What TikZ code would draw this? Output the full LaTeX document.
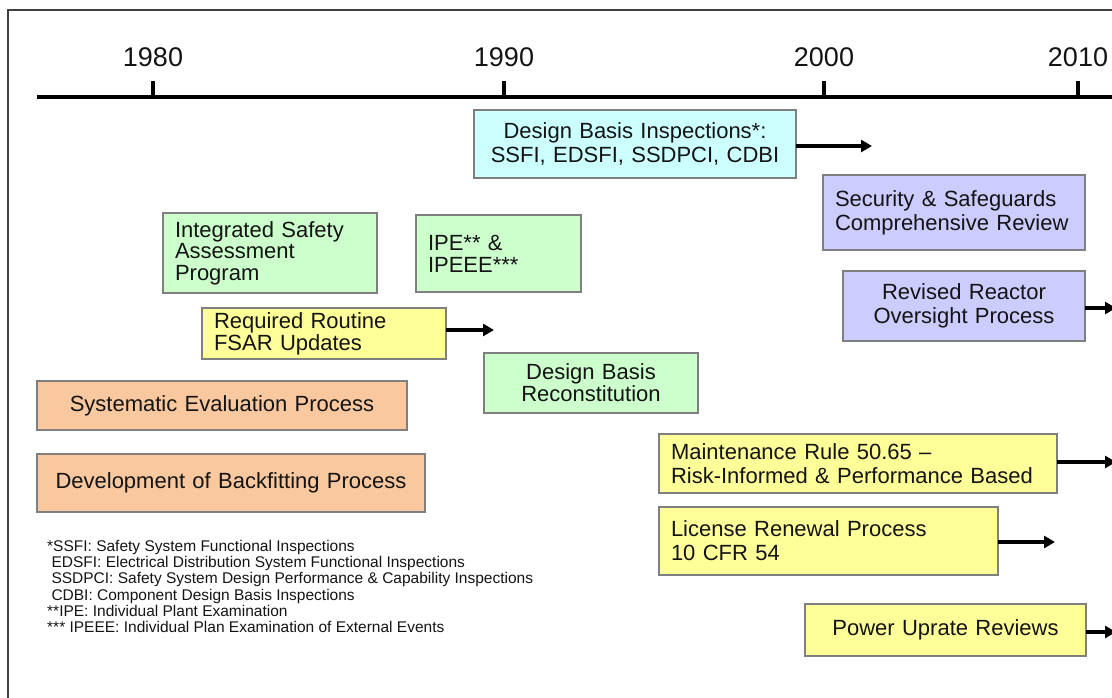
\documentclass[tikz,border=0pt]{standalone}
\usepackage{fontspec}
\setmainfont{Liberation Sans}
\usetikzlibrary{arrows.meta}

\definecolor{cyanbox}{HTML}{CCFFFF}
\definecolor{lavbox}{HTML}{CCCCFF}
\definecolor{greenbox}{HTML}{CCFFCC}
\definecolor{yellowbox}{HTML}{FFFF99}
\definecolor{orangebox}{HTML}{FAC89E}
\definecolor{boxline}{HTML}{7F7F7F}
\definecolor{ink}{HTML}{141414}

\tikzset{
  event/.style={draw=boxline, line width=1.6pt, inner sep=0pt, outer sep=0pt,
    text=ink, font=\fontsize{22}{24}\selectfont},
  leftbox/.style={event, align=left},
  midbox/.style={event, align=center},
  sz/.style n args={2}{minimum width=#1pt, minimum height=#2pt, text width=#1pt-24pt},
  cont/.style={line width=3.4pt, -{Triangle[length=11pt,width=12pt]}},
  year/.style={font=\fontsize{27}{30}\selectfont, text=ink},
  tick/.style={line width=3.6pt},
}

\begin{document}
\begin{tikzpicture}[x=1pt,y=-1pt]
\useasboundingbox (0,0) rectangle (1112,698);

% frame
\draw[line width=2.4pt, draw=black!75] (8,698) -- (8,10) -- (1112,10);

% time axis
\coordinate (axL) at (37,97);
\coordinate (axR) at (1112,97);
\draw[line width=3.6pt] (axL) -- (axR);
\foreach \yr/\px in {1980/153,1990/504,2000/824,2010/1078}{
  \coordinate (t\yr) at (\px,97);
  \draw[tick] (t\yr) -- ++(0,-16);
  \node[year] (y\yr) at (\px,57) {\yr};
}

% events
\node[midbox, fill=cyanbox, sz={322}{68}] (dbi) at (635,144)
  {Design Basis Inspections*:\\SSFI, EDSFI, SSDPCI, CDBI};
\node[leftbox, fill=lavbox, sz={262}{75}] (ssc) at (954,212.5)
  {Security \& Safeguards\\Comprehensive Review};
\node[midbox, fill=lavbox, sz={242}{70}] (rro) at (964,306)
  {Revised Reactor\\Oversight Process};
\node[leftbox, fill=greenbox, sz={214}{80}, font=\fontsize{22}{21.5}\selectfont] (isap) at (270,253)
  {Integrated Safety\\Assessment\\Program};
\node[leftbox, fill=greenbox, sz={165}{77}, font=\fontsize{22}{22}\selectfont] (ipe) at (498.5,253.5)
  {IPE** \&\\IPEEE***};
\node[leftbox, fill=yellowbox, sz={244}{51}, font=\fontsize{22}{22}\selectfont] (rrfu) at (324,333.5)
  {Required Routine\\FSAR Updates};
\node[midbox, fill=greenbox, sz={214}{60}, font=\fontsize{22}{22}\selectfont] (dbr) at (591,383)
  {Design Basis\\Reconstitution};
\node[midbox, fill=orangebox, sz={370}{49}] (sep) at (222,405.5)
  {Systematic Evaluation Process};
\node[midbox, fill=orangebox, sz={388}{58}] (dbp) at (231,483)
  {Development of Backfitting Process};
\node[leftbox, fill=yellowbox, sz={398}{59}] (mr) at (858,463.5)
  {Maintenance Rule 50.65 –\\Risk-Informed \& Performance Based};
\node[leftbox, fill=yellowbox, sz={339}{68}] (lr) at (828.5,541)
  {License Renewal Process\\10 CFR 54};
\node[midbox, fill=yellowbox, sz={281}{52}] (pur) at (945.5,630)
  {Power Uprate Reviews};

% continuing programmes
\coordinate (dbiEnd) at (872,146);
\coordinate (rrfuEnd) at (494,330);
\coordinate (rroEnd) at (1116,308);
\coordinate (mrEnd) at (1116,462);
\coordinate (lrEnd) at (1055,542);
\coordinate (purEnd) at (1116,632);
\draw[cont] (dbi.east |- dbiEnd) -- (dbiEnd);
\draw[cont] (rrfu.east |- rrfuEnd) -- (rrfuEnd);
\draw[cont] (rro.east |- rroEnd) -- (rroEnd);
\draw[cont] (mr.east |- mrEnd) -- (mrEnd);
\draw[cont] (lr.east |- lrEnd) -- (lrEnd);
\draw[cont] (pur.east |- purEnd) -- (purEnd);

% footnotes
\node[anchor=north west, align=left, inner sep=0pt, text=ink,
      font=\fontsize{15.5}{16.2}\selectfont] (notes) at (47,540)
  {*SSFI: Safety System Functional Inspections\\
   \ EDSFI: Electrical Distribution System Functional Inspections\\
   \ SSDPCI: Safety System Design Performance \& Capability Inspections\\
   \ CDBI: Component Design Basis Inspections\\
   **IPE: Individual Plant Examination\\
   *** IPEEE: Individual Plan Examination of External Events};
\end{tikzpicture}
\end{document}
